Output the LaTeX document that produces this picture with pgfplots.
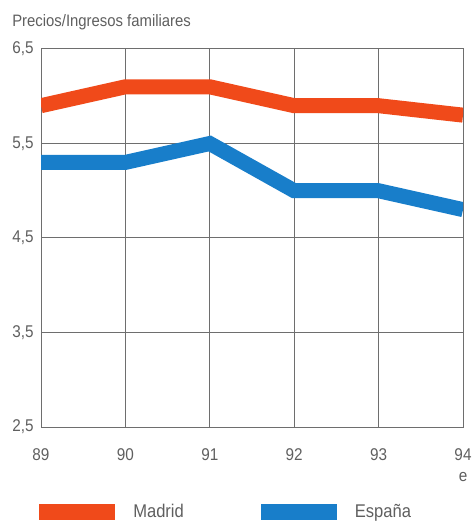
\documentclass[border=0pt]{standalone}
\usepackage{fontspec}
\setmainfont{Liberation Sans}[FakeStretch=0.9]
\usepackage{pgfplots}
\pgfplotsset{compat=1.18}

\definecolor{madrid}{RGB}{240,74,26}
\definecolor{espana}{RGB}{24,126,202}
\definecolor{txt}{RGB}{95,95,95}
\definecolor{gridc}{RGB}{110,110,110}

\begin{document}
\begin{tikzpicture}
\begin{axis}[
  scale only axis,
  width=316.5pt, height=283.5pt,
  at={(0,0)}, anchor=south west,
  xmin=89, xmax=94, ymin=2.5, ymax=6.5,
  xtick={89,90,91,92,93,94},
  xticklabels={89,90,91,92,93,{94\\e}},
  ytick={2.5,3.5,4.5,5.5,6.5},
  yticklabels={{2,5},{3,5},{4,5},{5,5},{6,5}},
  major tick length=0pt,
  grid=major,
  grid style={gridc, line width=0.75pt},
  axis line style={gridc, line width=0.75pt},
  xticklabel style={align=center, font=\fontsize{12.75}{15.75}\selectfont, text=txt, yshift=-13pt},
  yticklabel style={font=\fontsize{12.75}{15}\selectfont, text=txt, xshift=-2pt},
  title={Precios/Ingresos familiares},
  title style={at={(0,1)}, anchor=base west, xshift=-21.75pt, yshift=10.9pt,
    inner sep=0pt, font=\fontsize{12.4}{14}\selectfont, text=txt},
  legend columns=2,
  legend image code/.code={\fill[#1, draw=none] (0pt,-5.7pt) rectangle (57pt,5.7pt);},
  legend style={at={(axis description cs:0,0)}, anchor=west,
    xshift=-1.5pt, yshift=-63.75pt,
    draw=none, fill=none, inner sep=0pt,
    font=\fontsize{13.8}{16}\selectfont, text=txt,
    nodes={inner xsep=0pt},
    /tikz/every odd column/.append style={column sep=13.5pt},
    /tikz/every even column/.append style={column sep=57.75pt}},
  legend cell align=left,
]
\addplot[madrid, line width=11.25pt] coordinates
  {(89,5.9) (90,6.1) (91,6.1) (92,5.9) (93,5.9) (94,5.8)};
\addlegendentry{Madrid}
\addplot[espana, line width=11.25pt] coordinates
  {(89,5.3) (90,5.3) (91,5.5) (92,5.0) (93,5.0) (94,4.8)};
\addlegendentry{España}
\end{axis}
\path[use as bounding box] (-30.75pt,-72pt) rectangle (321.75pt,320.25pt);
\end{tikzpicture}
\end{document}
